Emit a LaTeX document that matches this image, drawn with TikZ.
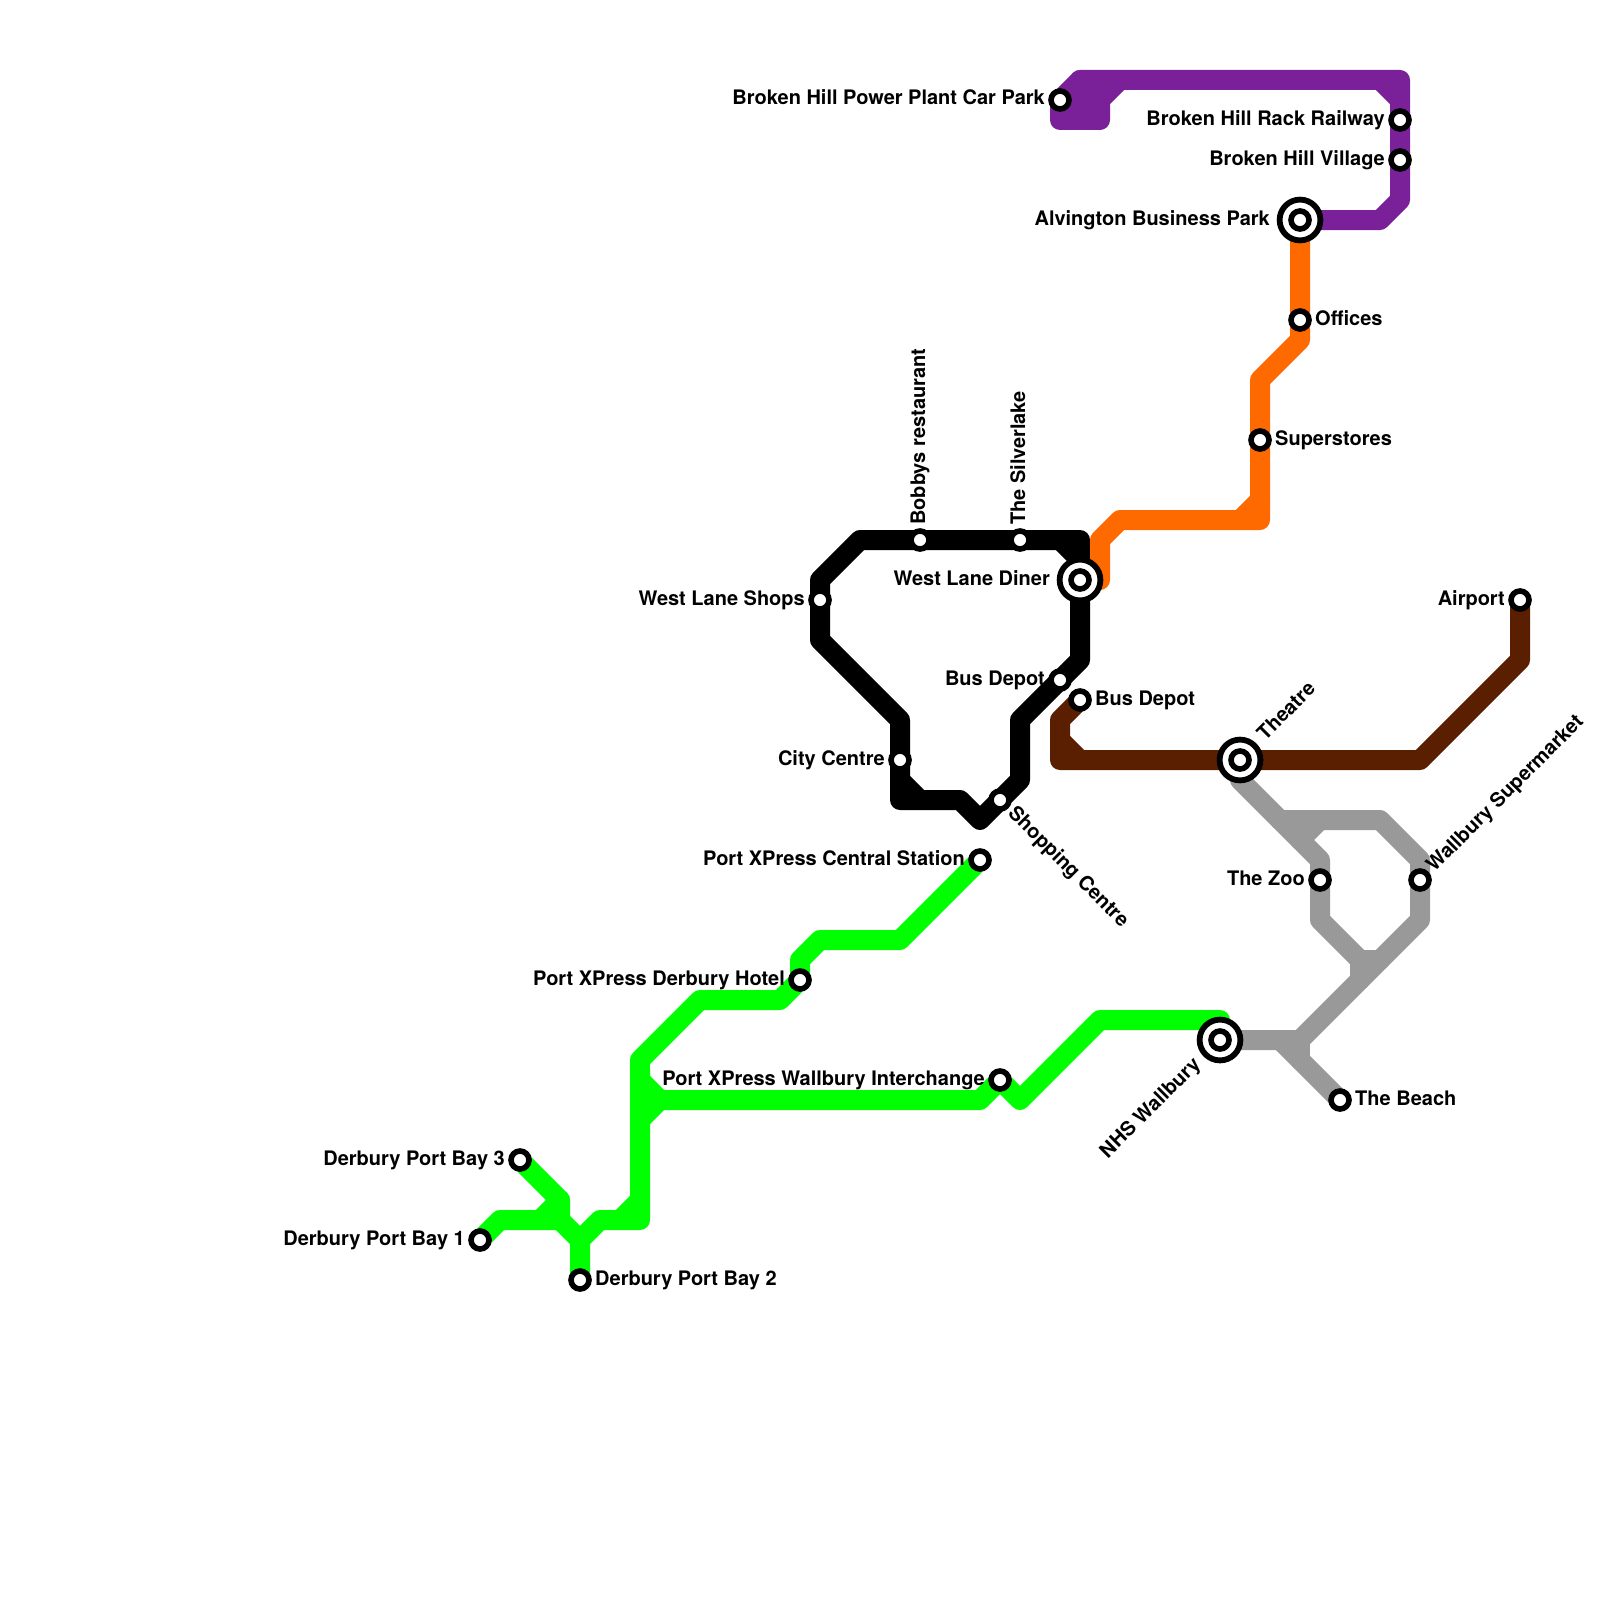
\documentclass[tikz,border=0pt]{standalone}
\usepackage{fontspec}
\setmainfont{TeX Gyre Heros}
\pgfdeclarelayer{lines}
\pgfsetlayers{lines,main}
\definecolor{cpurple}{HTML}{7A2199}
\definecolor{corange}{HTML}{FF6A00}
\definecolor{cbrown}{HTML}{5A1E00}
\definecolor{cgreen}{HTML}{00FF00}
\definecolor{cgray}{HTML}{999999}
\tikzset{
  metro/.style={line width=20pt,line join=round,line cap=round},
  stationnode/.style={circle,draw=black,fill=white,line width=5.6pt,minimum size=18pt,inner sep=0pt},
  hubnode/.style={circle,draw=black,fill=white,line width=5.8pt,minimum size=40.8pt,inner sep=0pt},
  txt/.style={font=\fontsize{20}{24}\selectfont\bfseries,inner sep=0pt,text=black},
  leftlabel/.style={txt,anchor=base east,xshift=-15pt,yshift=-5pt},
  rightlabel/.style={txt,anchor=base west,xshift=15pt,yshift=-5pt},
  hubleft/.style={txt,anchor=base east,xshift=-30pt,yshift=-5pt},
}
\begin{document}
\begin{tikzpicture}[x=1pt,y=-1pt]
\useasboundingbox (0,0) rectangle (1600,1600);
% stations
\node[stationnode] (powerplant) at (1060,100) {};
\node[stationnode] (rack) at (1400,120) {};
\node[stationnode] (village) at (1400,160) {};
\node[hubnode] (alvington) at (1300,220) {};
\node[stationnode] (alvingtonin) at (alvington) {};
\node[stationnode] (offices) at (1300,320) {};
\node[stationnode] (superstores) at (1260,440) {};
\node[hubnode] (diner) at (1080,580) {};
\node[stationnode] (dinerin) at (diner) {};
\node[stationnode] (bobbys) at (920,540) {};
\node[stationnode] (silverlake) at (1020,540) {};
\node[stationnode] (shops) at (820,600) {};
\node[stationnode] (depotA) at (1060,680) {};
\node[stationnode] (depotB) at (1080,700) {};
\node[stationnode] (city) at (900,760) {};
\node[stationnode] (shopping) at (1000,800) {};
\node[hubnode] (theatre) at (1240,760) {};
\node[stationnode] (theatrein) at (theatre) {};
\node[stationnode] (airport) at (1520,600) {};
\node[stationnode] (zoo) at (1320,880) {};
\node[stationnode] (supermarket) at (1420,880) {};
\node[hubnode] (nhs) at (1220,1040) {};
\node[stationnode] (nhsin) at (nhs) {};
\node[stationnode] (beach) at (1340,1100) {};
\node[stationnode] (central) at (980,860) {};
\node[stationnode] (hotel) at (800,980) {};
\node[stationnode] (interchange) at (1000,1080) {};
\node[stationnode] (bay3) at (520,1160) {};
\node[stationnode] (bay1) at (480,1240) {};
\node[stationnode] (bay2) at (580,1280) {};
% labels
\node[leftlabel] (tpower) at (powerplant) {Broken Hill Power Plant Car Park};
\node[leftlabel] (track) at (rack) {Broken Hill Rack Railway};
\node[leftlabel] (tvillage) at (village) {Broken Hill Village};
\node[hubleft] (talv) at (alvington) {Alvington Business Park};
\node[rightlabel] (toff) at (offices) {Offices};
\node[rightlabel] (tsup) at (superstores) {Superstores};
\node[hubleft] (tdiner) at (diner) {West Lane Diner};
\node[leftlabel] (tshops) at (shops) {West Lane Shops};
\node[leftlabel] (tdepotA) at (depotA) {Bus Depot};
\node[rightlabel] (tdepotB) at (depotB) {Bus Depot};
\node[leftlabel] (tcity) at (city) {City Centre};
\node[leftlabel] (tair) at (airport) {Airport};
\node[leftlabel] (tzoo) at (zoo) {The Zoo};
\node[rightlabel] (tbeach) at (beach) {The Beach};
\node[leftlabel] (tcentral) at (central) {Port XPress Central Station};
\node[leftlabel] (thotel) at (hotel) {Port XPress Derbury Hotel};
\node[leftlabel] (tinter) at (interchange) {Port XPress Wallbury Interchange};
\node[leftlabel] (tbay3) at (bay3) {Derbury Port Bay 3};
\node[leftlabel] (tbay1) at (bay1) {Derbury Port Bay 1};
\node[rightlabel] (tbay2) at (bay2) {Derbury Port Bay 2};
\node[txt,anchor=base west,rotate=90] (tbob) at (925,525) {Bobbys restaurant};
\node[txt,anchor=base west,rotate=90] (tsil) at (1025,525) {The Silverlake};
\node[txt,anchor=base west,rotate=45] (tthe) at (1265.3,741.3) {Theatre};
\node[txt,anchor=base west,rotate=45] (tsm) at (1434.3,873) {Wallbury Supermarket};
\node[txt,anchor=base west,rotate=-45] (tsc) at (1007,814.2) {Shopping Centre};
\node[txt,anchor=base east,rotate=45] (tnhs) at (1201.5,1065.5) {NHS Wallbury};
% lines
\begin{pgfonlayer}{lines}
% black
\draw[metro,black] (bobbys.center) -- (860,540) -- (820,580) -- (shops.center) -- (820,640) -- (900,720) -- (city.center) -- (900,800) -- (960,800) -- (980,820) -- (shopping.center) -- (1020,780) -- (1020,720) -- (depotA.center) -- (1080,660) -- (diner.center) -- (1080,540) -- (silverlake.center) -- (bobbys.center);
\draw[metro,black] (1060,540) -- (1080,560);
\draw[metro,black] (900,780) -- (920,800);
% orange
\draw[metro,corange] (alvington.center) -- (offices.center) -- (1300,340) -- (1260,380) -- (superstores.center) -- (1260,520) -- (1120,520) -- (1100,540) -- (1100,580) -- (diner.center);
\draw[metro,corange] (1260,500) -- (1240,520);
% purple
\draw[metro,cpurple] (alvington.center) -- (1380,220) -- (1400,200) -- (village.center) -- (rack.center) -- (1400,80) -- (1080,80) -- (powerplant.center) -- (1060,120) -- (1100,120) -- (1100,100) -- (1120,80);
\draw[metro,cpurple] (1380,80) -- (1400,100);
\draw[metro,cpurple] (1080,80) -- (1080,120);
\draw[metro,cpurple] (powerplant.center) -- (1100,100);
% gray
\draw[metro,cgray] (theatre.center) -- (1240,780) -- (1320,860) -- (zoo.center) -- (1320,920) -- (1360,960);
\draw[metro,cgray] (1280,820) -- (1380,820) -- (1420,860) -- (supermarket.center) -- (1420,920) -- (1300,1040) -- (nhs.center);
\draw[metro,cgray] (1320,820) -- (1300,840);
\draw[metro,cgray] (1360,960) -- (1380,960);
\draw[metro,cgray] (1360,960) -- (1360,980);
\draw[metro,cgray] (1300,1040) -- (1300,1060);
\draw[metro,cgray] (1280,1040) -- (beach.center);
% brown
\draw[metro,cbrown] (airport.center) -- (1520,660) -- (1420,760) -- (1060,760) -- (1060,720) -- (depotB.center);
\draw[metro,cbrown] (1060,740) -- (1080,760);
% green
\draw[metro,cgreen] (central.center) -- (900,940) -- (820,940) -- (800,960) -- (hotel.center) -- (780,1000) -- (700,1000) -- (640,1060) -- (640,1220) -- (600,1220) -- (580,1240) -- (bay2.center);
\draw[metro,cgreen] (640,1200) -- (620,1220);
\draw[metro,cgreen] (640,1080) -- (660,1100);
\draw[metro,cgreen] (640,1120) -- (660,1100) -- (980,1100) -- (interchange.center) -- (1020,1100) -- (1100,1020) -- (1220,1020) -- (nhs.center);
\draw[metro,cgreen] (bay3.center) -- (560,1200) -- (560,1220) -- (580,1240);
\draw[metro,cgreen] (bay1.center) -- (500,1220) -- (560,1220);
\draw[metro,cgreen] (540,1220) -- (560,1200);
\end{pgfonlayer}
\end{tikzpicture}
\end{document}
